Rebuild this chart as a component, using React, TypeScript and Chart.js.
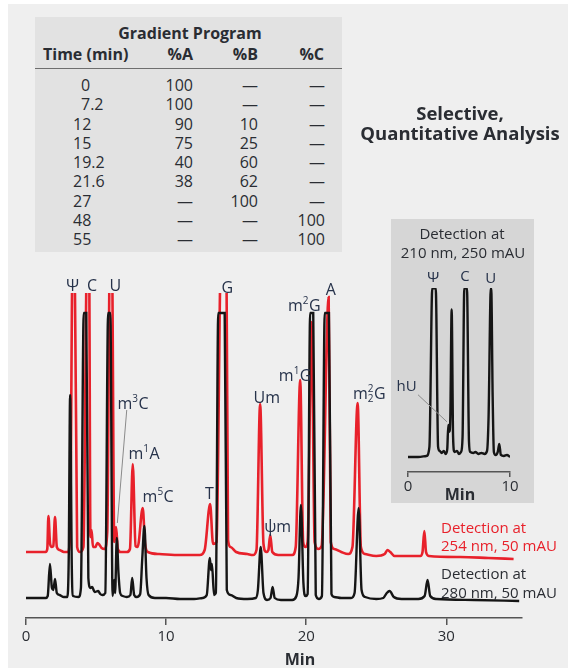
import React, { useEffect, useRef } from "react";
import { Chart, registerables } from "chart.js";

Chart.register(...registerables);

const FONT = '"Open Sans", "Noto Sans", "DejaVu Sans", sans-serif';
const INK = "#2a2d33";
const LABEL_INK = "#26324a";
const RED = "#e8212b";
const TRACE_BLACK = "#151515";

// ---- Gradient program table ----
const GRADIENT_TIME = ["0", "7.2", "12", "15", "19.2", "21.6", "27", "48", "55"];
const GRADIENT_A = [100, 100, 90, 75, 40, 38, null, null, null];
const GRADIENT_B = [null, null, 10, 25, 60, 62, 100, null, null];
const GRADIENT_C = [null, null, null, null, null, null, null, 100, 100];

// ---- Main chromatograms: [time (min), detector response above baseline] ----
const TRACE_280: [number, number][] = [
  [0, 0], [1.4, 0], [1.55, 2], [1.71, 34], [1.85, 10], [1.95, 8], [2.07, 19], [2.2, 5], [2.4, 3],
  [2.7, 1], [2.95, 1], [3.05, 40], [3.15, 203], [3.27, 30], [3.36, 2], [3.75, 1], [3.92, 10],
  [4.12, 285], [4.3, 285], [4.45, 20], [4.6, 10], [4.72, 11], [4.9, 6], [5.15, 7], [5.3, 4],
  [5.45, 3], [5.66, 5], [5.86, 285], [6.02, 285], [6.18, 2], [6.3, 18], [6.36, 5], [6.48, 60],
  [6.6, 25], [6.72, 5], [6.9, 2], [7.2, 1], [7.45, 3], [7.58, 20], [7.72, 3], [7.9, 1], [8.15, 4],
  [8.3, 40], [8.45, 72], [8.6, 20], [8.75, 3], [9.2, 0], [10, 0], [11, -1], [12, -1], [12.6, 0],
  [12.9, 3], [13.12, 40], [13.2, 28], [13.27, 34], [13.42, 3], [13.55, 5], [13.72, 285],
  [14.18, 285], [14.33, 8], [14.6, 3], [15.0, 0], [15.8, -1], [16.4, 0], [16.55, 8], [16.75, 51],
  [16.95, 5], [17.2, -2], [17.45, 0], [17.6, 11], [17.75, 0], [18.2, -2], [19.0, -2], [19.3, 2],
  [19.45, 20], [19.62, 93], [19.8, 15], [19.95, 2], [20.1, 4], [20.28, 285], [20.5, 285],
  [20.68, 3], [20.9, -1], [21.12, 2], [21.32, 285], [21.62, 285], [21.8, 4], [22.0, 1], [22.5, 0],
  [23.2, 0], [23.45, 5], [23.74, 90], [23.95, 8], [24.2, 1], [25.0, -1], [25.5, 0], [25.75, 5],
  [25.95, 7], [26.25, 1], [26.8, -1], [28.0, -1], [28.45, 2], [28.66, 18], [28.85, 2], [29.3, -1],
  [32, -2], [35.2, -3],
];

const TRACE_254: [number, number][] = [
  [0, 0], [1.4, 0], [1.52, 3], [1.6, 36], [1.72, 8], [1.85, 5], [1.95, 6], [2.07, 35], [2.2, 5],
  [2.4, 2], [2.7, 0], [3.0, 0], [3.15, 20], [3.33, 300], [3.47, 300], [3.65, 5], [3.85, 0],
  [4.1, 5], [4.36, 300], [4.5, 300], [4.6, 15], [4.68, 22], [4.78, 5], [4.95, 5], [5.1, 9],
  [5.25, 7], [5.4, 4], [5.6, 3], [5.8, 20], [5.99, 300], [6.13, 300], [6.3, 10], [6.43, 25],
  [6.55, 3], [6.75, 0], [7.2, 0], [7.42, 3], [7.62, 88], [7.82, 6], [7.97, 5], [8.33, 44],
  [8.5, 8], [8.7, 0], [9.5, -2], [11, -3], [12.4, -3], [12.75, 2], [13.14, 48], [13.35, 8],
  [13.6, 10], [13.92, 300], [14.3, 300], [14.42, 12], [14.6, 5], [15, 0], [15.8, -2], [16.2, -3],
  [16.45, 2], [16.71, 148], [16.95, 8], [17.15, 0], [17.3, 2], [17.43, 17], [17.58, 0], [18, -3],
  [19, -3], [19.25, 5], [19.57, 172], [19.78, 10], [19.95, 5], [20.1, 10], [20.38, 230],
  [20.6, 10], [20.85, 3], [21.1, 6], [21.6, 255], [21.75, 10], [22, 3], [22.5, 0], [23, -2],
  [23.3, 5], [23.67, 149], [23.9, 5], [24.2, -2], [25, -4], [25.6, -2], [25.8, 2], [26, 0],
  [26.3, -4], [28.15, -4], [28.3, 0], [28.43, 21], [28.55, 0], [28.75, -4], [31, -5], [33, -6],
  [34.8, -7],
];

const OFFSET_254 = 46;
const MAIN_TICKS = [0, 10, 20, 30];

// peak labels: [text, time, response]
const MAIN_LABELS: [string, number, number][] = [
  ["Ψ", 3.32, 313], ["C", 4.71, 313], ["U", 6.38, 313], ["G", 14.36, 311],
  ["m^{3}C", 7.64, 195], ["m^{1}A", 8.43, 145], ["m^{5}C", 9.43, 102], ["T", 13.09, 105],
  ["Um", 17.19, 201], ["ψm", 17.96, 72], ["m^{1}G", 19.21, 223], ["m^{2}G", 19.86, 293],
  ["A", 21.76, 309], ["m_{2}^{2}G", 24.5, 205],
];
const MAIN_LEADER: [number, number][] = [[7.19, 188], [6.52, 75]];

// ---- Inset: 210 nm ----
const TRACE_210: [number, number][] = [
  [0, 0], [1.0, 0], [1.8, 1], [2.1, 10], [2.38, 168], [2.72, 168], [2.95, 10], [3.1, 6], [3.3, 4],
  [3.5, 6], [3.7, 3], [3.85, 8], [3.95, 32], [4.05, 25], [4.15, 40], [4.28, 147], [4.42, 20],
  [4.55, 5], [4.8, 6], [5.0, 3], [5.2, 5], [5.35, 20], [5.52, 168], [5.78, 168], [5.98, 15],
  [6.1, 5], [6.4, 4], [6.6, 5], [6.9, 3], [7.2, 4], [7.5, 3], [7.75, 6], [7.9, 40], [8.12, 168],
  [8.16, 168], [8.3, 60], [8.42, 5], [8.6, 2], [8.8, 5], [8.95, 13], [9.1, 2], [9.4, 1], [9.7, 2],
  [10, 0],
];
const INSET_TICKS = [0, 10];
const INSET_LABELS: [string, number, number][] = [
  ["Ψ", 2.48, 180], ["C", 5.59, 181], ["U", 8.11, 179], ["hU", -0.13, 71],
];
const INSET_LEADER: [number, number][] = [[0.98, 62], [3.82, 35]];

function drawRich(ctx: CanvasRenderingContext2D, text: string, x: number, y: number, size: number, color: string) {
  const parts = text.split(/(\^\{[^}]*\}|_\{[^}]*\})/).filter((p) => p !== "");
  const items: { main?: string; sup?: string; sub?: string }[] = [];
  for (const p of parts) {
    if (p.startsWith("^{")) {
      const s = p.slice(2, -1);
      const last = items[items.length - 1];
      if (last && last.sub !== undefined && last.sup === undefined && last.main === undefined) last.sup = s;
      else items.push({ sup: s });
    } else if (p.startsWith("_{")) items.push({ sub: p.slice(2, -1) });
    else items.push({ main: p });
  }
  const big = `${size}px ${FONT}`;
  const small = `${Math.round(size * 0.6)}px ${FONT}`;
  const widthOf = (it: { main?: string; sup?: string; sub?: string }) => {
    if (it.main !== undefined) {
      ctx.font = big;
      return ctx.measureText(it.main).width;
    }
    ctx.font = small;
    return Math.max(it.sup ? ctx.measureText(it.sup).width : 0, it.sub ? ctx.measureText(it.sub).width : 0) + 0.5;
  };
  const total = items.reduce((a, it) => a + widthOf(it), 0);
  let cx = x - total / 2;
  ctx.fillStyle = color;
  ctx.textAlign = "left";
  ctx.textBaseline = "alphabetic";
  const base = y + size * 0.36;
  for (const it of items) {
    const w = widthOf(it);
    if (it.main !== undefined) {
      ctx.font = big;
      ctx.fillText(it.main, cx, base);
    } else {
      ctx.font = small;
      if (it.sup) ctx.fillText(it.sup, cx, base - size * 0.4);
      if (it.sub) ctx.fillText(it.sub, cx, base + size * 0.22);
    }
    cx += w;
  }
}

function labelPlugin(labels: [string, number, number][], leader: [number, number][], size: number) {
  return {
    id: "peakLabels",
    afterDatasetsDraw(chart: any) {
      const ctx: CanvasRenderingContext2D = chart.ctx;
      const xs = chart.scales.x;
      const ys = chart.scales.y;
      ctx.save();
      ctx.strokeStyle = "#8a8a8a";
      ctx.lineWidth = 1;
      ctx.beginPath();
      ctx.moveTo(xs.getPixelForValue(leader[0][0]), ys.getPixelForValue(leader[0][1]));
      ctx.lineTo(xs.getPixelForValue(leader[1][0]), ys.getPixelForValue(leader[1][1]));
      ctx.stroke();
      for (const [text, t, v] of labels) {
        drawRich(ctx, text, xs.getPixelForValue(t), ys.getPixelForValue(v), size, LABEL_INK);
      }
      ctx.restore();
    },
  };
}

const Txt = ({ x, y, align = "left", size = 16, bold = false, color = INK, children }: any) => (
  <div
    style={{
      position: "absolute",
      left: x,
      top: y - 10,
      lineHeight: "20px",
      fontSize: size,
      fontWeight: bold ? 700 : 400,
      color,
      whiteSpace: "nowrap",
      fontFamily: FONT,
      transform: align === "center" ? "translateX(-50%)" : align === "right" ? "translateX(-100%)" : undefined,
    }}
  >
    {children}
  </div>
);

export default function App() {
  const mainRef = useRef<HTMLCanvasElement>(null);
  const insetRef = useRef<HTMLCanvasElement>(null);

  useEffect(() => {
    const main = new Chart(mainRef.current!, {
      type: "line",
      data: {
        datasets: [
          {
            label: "280 nm",
            data: TRACE_280.map(([t, s]) => ({ x: t, y: s })),
            borderColor: TRACE_BLACK,
            borderWidth: 2.4,
            pointRadius: 0,
            cubicInterpolationMode: "monotone",
            order: 0,
          },
          {
            label: "254 nm",
            data: TRACE_254.map(([t, s]) => ({ x: t, y: s + OFFSET_254 })),
            borderColor: RED,
            borderWidth: 2.6,
            pointRadius: 0,
            cubicInterpolationMode: "monotone",
            order: 1,
          },
        ],
      },
      options: {
        responsive: false,
        animation: false,
        events: [],
        layout: { padding: { left: 26, right: 46, top: 293, bottom: 0 } },
        plugins: { legend: { display: false }, tooltip: { enabled: false } },
        scales: {
          x: {
            type: "linear",
            min: 0,
            max: 35.4,
            afterBuildTicks: (s: any) => {
              s.ticks = MAIN_TICKS.map((v) => ({ value: v }));
            },
            afterFit: (s: any) => {
              s.height = 50;
            },
            border: { display: true, color: "#555", width: 1.5 },
            grid: { drawOnChartArea: false, drawTicks: true, tickLength: 7, color: "#555", lineWidth: 1.5 },
            ticks: { font: { family: FONT, size: 15 }, color: INK, padding: 3, maxRotation: 0, autoSkip: false },
          },
          y: { type: "linear", display: false, min: -20, max: 305 },
        },
      },
      plugins: [labelPlugin(MAIN_LABELS, MAIN_LEADER, 16)],
    } as any);

    const inset = new Chart(insetRef.current!, {
      type: "line",
      data: {
        datasets: [
          {
            label: "210 nm",
            data: TRACE_210.map(([t, s]) => ({ x: t, y: s })),
            borderColor: TRACE_BLACK,
            borderWidth: 2.4,
            pointRadius: 0,
            cubicInterpolationMode: "monotone",
          },
        ],
      },
      options: {
        responsive: false,
        animation: false,
        events: [],
        layout: { padding: { left: 17, right: 24, top: 69, bottom: 0 } },
        plugins: { legend: { display: false }, tooltip: { enabled: false } },
        scales: {
          x: {
            type: "linear",
            min: 0,
            max: 10,
            afterBuildTicks: (s: any) => {
              s.ticks = INSET_TICKS.map((v) => ({ value: v }));
            },
            afterFit: (s: any) => {
              s.height = 31;
            },
            border: { display: true, color: "#555", width: 1.5 },
            grid: { drawOnChartArea: false, drawTicks: true, tickLength: 5, color: "#555", lineWidth: 1.5 },
            ticks: { font: { family: FONT, size: 15 }, color: INK, padding: 1, maxRotation: 0, autoSkip: false },
          },
          y: { type: "linear", display: false, min: -15, max: 168.4 },
        },
      },
      plugins: [labelPlugin(INSET_LABELS, INSET_LEADER, 15)],
    } as any);

    return () => {
      main.destroy();
      inset.destroy();
    };
  }, []);

  const ROW0 = 85;
  const ROW_STEP = 19.25;
  const dash = (v: number | null) => (v === null ? "—" : String(v));

  return (
    <div style={{ position: "fixed", left: 0, top: 0, width: 568, height: 668, background: "#fff", overflow: "hidden" }}>
      <div style={{ position: "absolute", left: 8, top: 4, right: 0, bottom: 0, background: "#efefef" }} />
      <canvas ref={mainRef} width={568} height={668} style={{ position: "absolute", left: 0, top: 0 }} />

      {/* Gradient program table */}
      <div style={{ position: "absolute", left: 35, top: 17, width: 307, height: 235, background: "#e2e2e2" }} />
      <div style={{ position: "absolute", left: 35, top: 68, width: 307, height: 0, borderTop: "1.5px solid #6e6e6e" }} />
      <Txt x={190} y={33} align="center" bold>Gradient Program</Txt>
      <Txt x={43} y={54} bold>Time (min)</Txt>
      <Txt x={193} y={54} align="right" bold>%A</Txt>
      <Txt x={258} y={54} align="right" bold>%B</Txt>
      <Txt x={324} y={54} align="right" bold>%C</Txt>
      {GRADIENT_TIME.map((t, i) => (
        <React.Fragment key={t}>
          <Txt x={73} y={ROW0 + i * ROW_STEP}>
            <span style={{ paddingLeft: t.split(".")[0].length === 1 ? "0.5em" : 0 }}>{t}</span>
          </Txt>
          <Txt x={193} y={ROW0 + i * ROW_STEP} align="right">{dash(GRADIENT_A[i])}</Txt>
          <Txt x={258} y={ROW0 + i * ROW_STEP} align="right">{dash(GRADIENT_B[i])}</Txt>
          <Txt x={325} y={ROW0 + i * ROW_STEP} align="right">{dash(GRADIENT_C[i])}</Txt>
        </React.Fragment>
      ))}

      <Txt x={460} y={113} align="center" size={18.5} bold>Selective,</Txt>
      <Txt x={460} y={133} align="center" size={18.5} bold>Quantitative Analysis</Txt>

      {/* Inset */}
      <div style={{ position: "absolute", left: 391, top: 219, width: 143, height: 284, background: "#d6d6d6" }}>
        <canvas ref={insetRef} width={143} height={284} style={{ position: "absolute", left: 0, top: 0 }} />
      </div>
      <Txt x={462} y={233} align="center" size={15}>Detection at</Txt>
      <Txt x={463} y={252} align="center" size={15}>210 nm, 250 mAU</Txt>
      <Txt x={460} y={494} align="center" size={16} bold>Min</Txt>

      {/* Trace captions */}
      <Txt x={441} y={527} size={15} color={RED}>Detection at</Txt>
      <Txt x={441} y={545} size={15} color={RED}>254 nm, 50 mAU</Txt>
      <Txt x={441} y={573} size={15}>Detection at</Txt>
      <Txt x={441} y={592} size={15}>280 nm, 50 mAU</Txt>

      <Txt x={300} y={659} align="center" size={16} bold>Min</Txt>
    </div>
  );
}
